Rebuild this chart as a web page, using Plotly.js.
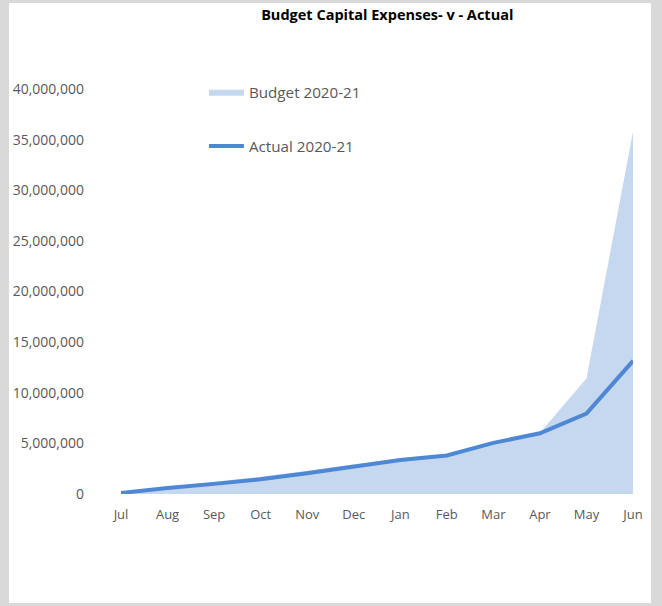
<!DOCTYPE html>
<html>
<head>
<meta charset="utf-8">
<script src="https://cdn.plot.ly/plotly-3.0.1.min.js"></script>
<style>
  html, body { margin: 0; padding: 0; background: #d9d9d9; width: 662px; height: 606px; overflow: hidden; }
  #chart { position: absolute; left: 9px; top: 3px; width: 642px; height: 600px; background: #ffffff; }
</style>
</head>
<body>
<div id="chart"></div>
<script>
const months = ["Jul","Aug","Sep","Oct","Nov","Dec","Jan","Feb","Mar","Apr","May","Jun"];
const budget = [150000, 750000, 1200000, 1700000, 2300000, 2950000, 3450000, 3850000, 5100000, 6050000, 11400000, 35800000];
const actual = [100000, 600000, 1000000, 1450000, 2050000, 2750000, 3350000, 3800000, 5050000, 6000000, 7950000, 13150000];
const yTicks = [0, 5000000, 10000000, 15000000, 20000000, 25000000, 30000000, 35000000, 40000000];
const yTickText = ["0","5,000,000","10,000,000","15,000,000","20,000,000","25,000,000","30,000,000","35,000,000","40,000,000"];

const font = "Open Sans, sans-serif";

const traces = [
  {
    x: months, y: budget, name: "Budget 2020-21", type: "scatter", mode: "lines",
    fill: "tozeroy", fillcolor: "#c6d8f0", line: { width: 0, color: "#c6d8f0" },
    legend: "legend", hoverinfo: "skip"
  },
  {
    x: months, y: actual, name: "Actual 2020-21", type: "scatter", mode: "lines",
    line: { width: 4, color: "#4e87d3" },
    legend: "legend2", hoverinfo: "skip"
  }
];

const legendCommon = {
  xanchor: "left", yanchor: "middle", bgcolor: "rgba(0,0,0,0)",
  font: { family: font, size: 15.2, color: "#595959" }, itemwidth: 35
};

const layout = {
  width: 642, height: 600,
  paper_bgcolor: "#ffffff", plot_bgcolor: "#ffffff",
  margin: { l: 112, r: 18, t: 86, b: 109 },
  title: {
    text: "<b>Budget Capital Expenses- v - Actual</b>",
    font: { family: font, size: 14.5, color: "#000000" },
    x: 0.52, xanchor: "center", xref: "paper",
    y: 0.98, yanchor: "middle", yref: "container"
  },
  xaxis: {
    type: "category", range: [0, 11],
    showgrid: false, zeroline: false, showline: false, ticks: "",
    tickfont: { family: font, size: 13, color: "#595959" },
    ticklabelstandoff: 11, fixedrange: true
  },
  yaxis: {
    range: [0, 40000000], tickvals: yTicks, ticktext: yTickText,
    showgrid: false, zeroline: false, showline: false, ticks: "",
    tickfont: { family: font, size: 14, color: "#595959" },
    ticklabelstandoff: 36, fixedrange: true
  },
  showlegend: true,
  legend: Object.assign({}, legendCommon, { x: 0.162, y: 0.993 }),
  legend2: Object.assign({}, legendCommon, { x: 0.162, y: 0.859 })
};

Plotly.newPlot("chart", traces, layout, { displayModeBar: false, staticPlot: true });
</script>
</body>
</html>
